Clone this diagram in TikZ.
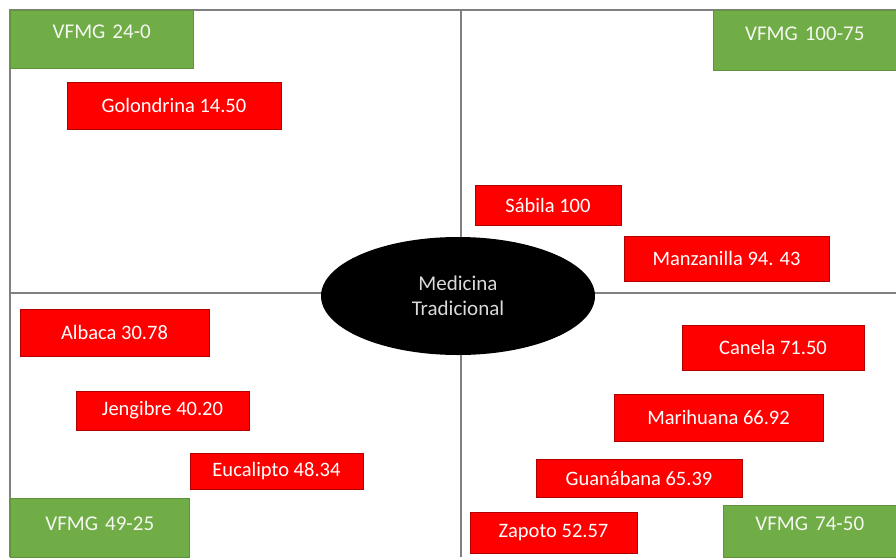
\documentclass[tikz,border=0pt]{standalone}
\usepackage{fontspec}
\setmainfont{Carlito}
\usetikzlibrary{shapes.geometric}
\definecolor{vgreen}{RGB}{112,173,71}
\definecolor{vred}{RGB}{255,0,0}
\definecolor{gridgray}{RGB}{128,128,128}
\tikzset{
  gridline/.style={draw=gridgray, line width=1.6pt},
  greenbox/.style={fill=vgreen, draw=vgreen!85!black, line width=0.6pt, text=white!92!vgreen, inner sep=0pt, align=center, font=\fontsize{21}{23}\selectfont, anchor=north west},
  redbox/.style={fill=vred, draw=vred!70!black, line width=0.8pt, text=white, inner sep=0pt, font=\fontsize{20.5}{23}\selectfont},
  hub/.style={ellipse, fill=black, text=white!85!black, inner sep=0pt, minimum width=274pt, minimum height=118pt, align=center, font=\fontsize{21}{25}\selectfont}
}
\begin{document}
\begin{tikzpicture}[x=1pt,y=-1pt]
\useasboundingbox (0,0) rectangle (896,557);
\fill[white] (0,0) rectangle (896,557);
% grid
\coordinate (tl) at (10,10);
\coordinate (tr) at (896,10);
\coordinate (bl) at (10,557);
\coordinate (vt) at (461,10);
\coordinate (vb) at (461,557);
\coordinate (hl) at (10,293);
\coordinate (hr) at (896,293);
\draw[gridline] (bl) -- (tl) -- (tr);
\draw[gridline] (vt) -- (vb);
\draw[gridline] (hl) -- (hr);
% green labels
\node[greenbox, text width=183pt, text height=28pt, text depth=30pt] (g1) at (10,10) {VFMG 24-0};
\node[greenbox, text width=183pt, text height=30pt, text depth=30pt] (g2) at (713,10) {VFMG 100-75};
\node[greenbox, text width=179pt, text height=32pt, text depth=27pt] (g3) at (10,498) {VFMG 49-25};
\node[greenbox, text width=173pt, text height=25pt, text depth=27pt] (g4) at (723,505) {VFMG 74-50};
% hub
\node[hub] (hub) at (458,296) {Medicina\\Tradicional};
% red boxes
\node[redbox, minimum width=214pt, minimum height=47pt] (golondrina) at (174,105.5) {Golondrina 14.50};
\node[redbox, minimum width=146pt, minimum height=40pt] (sabila) at (548,205) {Sábila 100};
\node[redbox, minimum width=205pt, minimum height=45pt] (manzanilla) at (726.5,258.5) {Manzanilla 94. 43};
\node[redbox, minimum width=189pt, minimum height=47pt] (albaca) at (114.5,332.5) {Albaca 30.78};
\node[redbox, minimum width=173pt, minimum height=39pt] (jengibre) at (162.5,410.5) {Jengibre 40.20};
\node[redbox, minimum width=173pt, minimum height=36pt] (eucalipto) at (276.5,471) {Eucalipto 48.34};
\node[redbox, minimum width=182pt, minimum height=45pt] (canela) at (773,347.5) {Canela 71.50};
\node[redbox, minimum width=209pt, minimum height=47pt] (marihuana) at (718.5,417.5) {Marihuana 66.92};
\node[redbox, minimum width=206pt, minimum height=38pt] (guanabana) at (639,478) {Guanábana 65.39};
\node[redbox, minimum width=167pt, minimum height=41pt] (zapoto) at (553.5,532.5) {Zapoto 52.57};
\end{tikzpicture}
\end{document}
